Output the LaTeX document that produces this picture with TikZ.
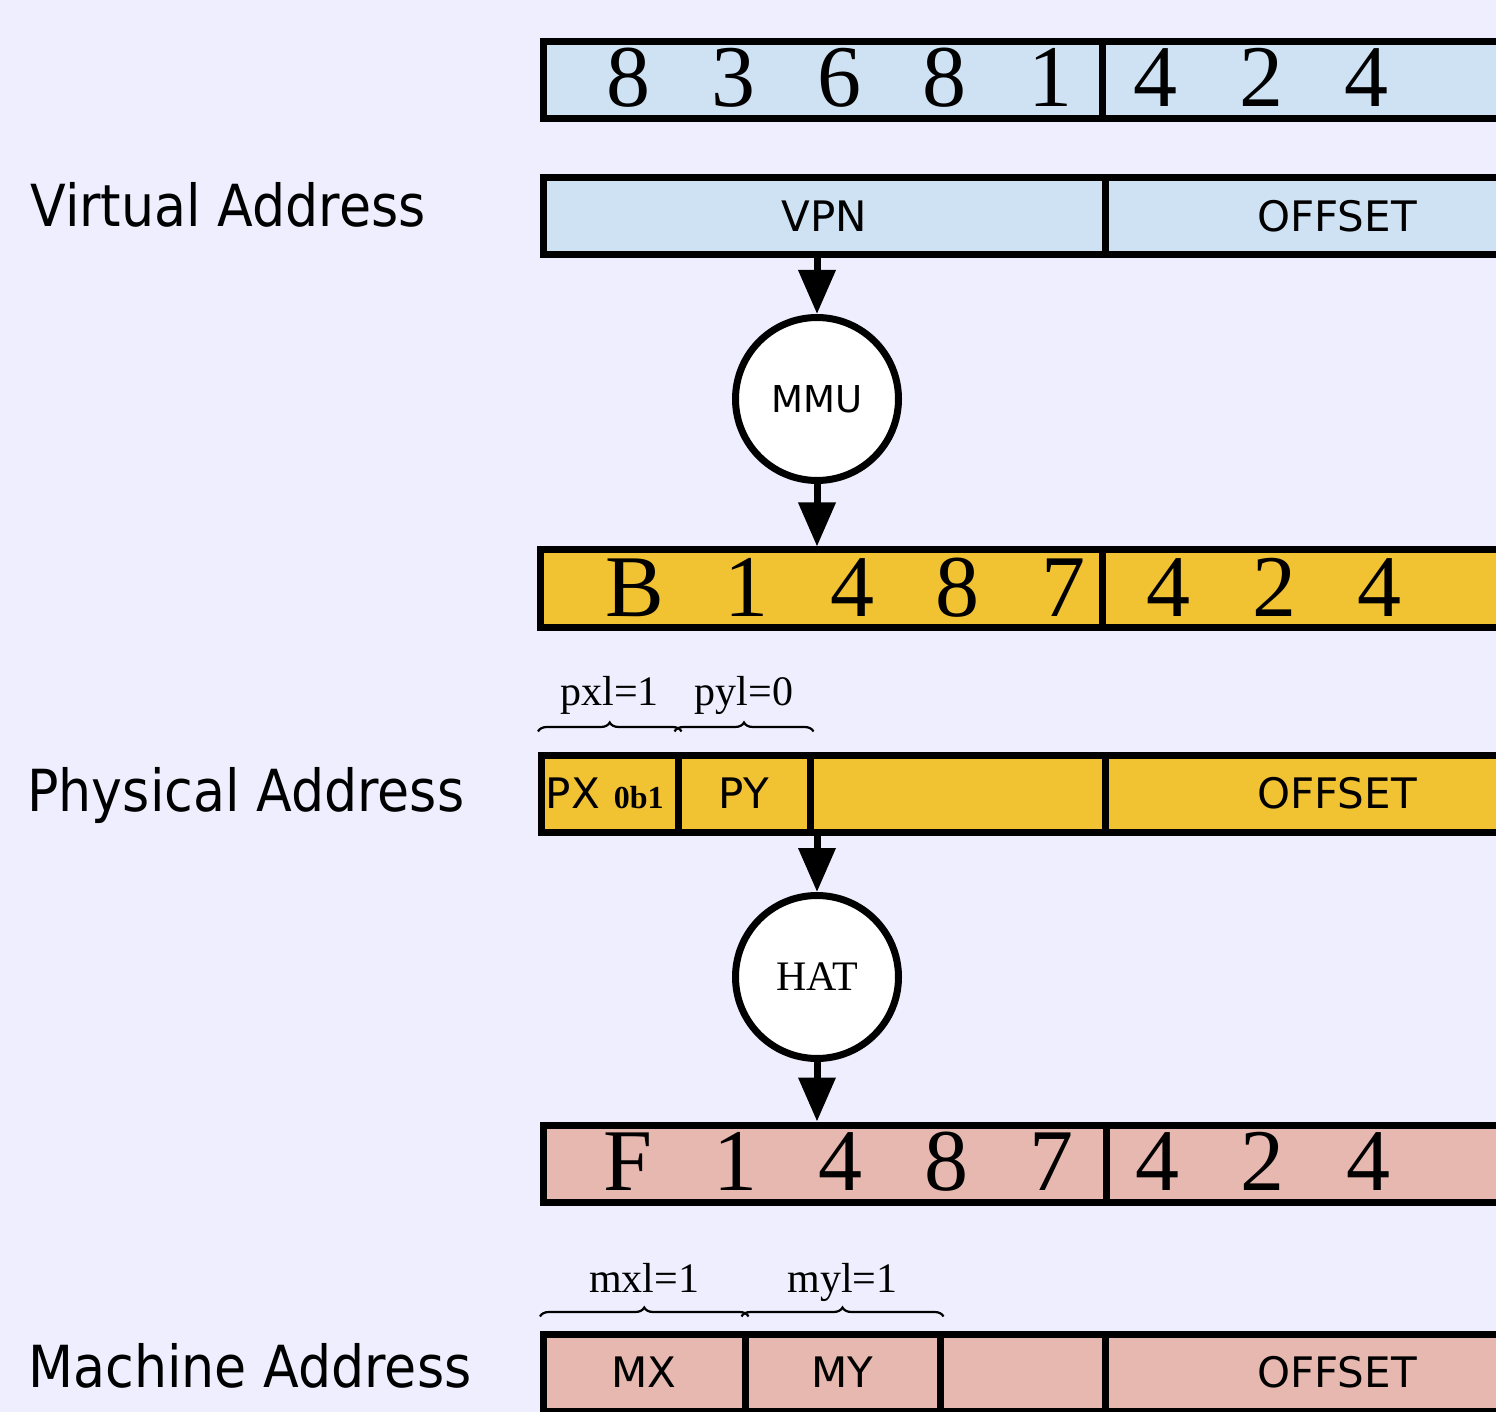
\documentclass[tikz,border=0pt]{standalone}
\usepackage{fontspec}
\setmainfont{Liberation Serif}
\setsansfont{DejaVu Sans}
\newfontfamily\addrlabelfamily[FakeStretch=0.9]{DejaVu Sans}
\usetikzlibrary{arrows.meta,decorations.pathreplacing}

\definecolor{paper}{RGB}{238,238,254}
\definecolor{virtblue}{RGB}{207,226,243}
\definecolor{physgold}{RGB}{241,194,50}
\definecolor{machrose}{RGB}{230,184,175}

\newcommand\addrdigits{\fontsize{44}{48}\selectfont}
\newcommand\addrfield{\sffamily\fontsize{21}{24}\selectfont}
\newcommand\addrlabel{\addrlabelfamily\fontsize{29}{32}\selectfont}
\newcommand\addrspan{\fontsize{21}{24}\selectfont}

\tikzset{
  field/.style={draw, line width=3.5pt, minimum height=38.5pt, inner sep=0pt, font=\addrfield},
  digit/.style={anchor=base, inner sep=0pt, font=\addrdigits},
  unit/.style={circle, draw, line width=3.5pt, fill=white, minimum size=81.5pt, inner sep=0pt},
  flow/.style={line width=3.5pt, -{Triangle[width=18pt,length=22pt]}},
  span/.style={decorate, decoration={brace, amplitude=4.5pt}, line width=1.1pt},
  spanlabel/.style={midway, anchor=base, inner sep=0pt, yshift=13pt, font=\addrspan},
  rowlabel/.style={anchor=base west, inner sep=0pt, font=\addrlabel}
}

\begin{document}
\begin{tikzpicture}[x=0.5pt,y=-0.5pt]
\useasboundingbox (0,0) rectangle (1496,1412);
\clip (0,0) rectangle (1496,1412);
\fill[paper] (0,0) rectangle (1496,1412);

% row names
\node[rowlabel] (vlabel) at (30,227) {Virtual Address};
\node[rowlabel] (plabel) at (27,811) {Physical Address};
\node[rowlabel] (mlabel) at (28,1387) {Machine Address};

% virtual address: value and layout
\node[field, fill=virtblue, minimum width=279.75pt] (vhi) at (823.25,80) {};
\node[field, fill=virtblue, minimum width=233pt] (vlo) at (1335.5,80) {};
\foreach \c [count=\i] in {8,3,6,8,1,4,2,4}
  \node[digit] (vd\i) at ({628+105.5*(\i-1)},107) {\c};

\node[field, fill=virtblue, minimum width=280.75pt] (vpn) at (824.25,216) {VPN};
\node[field, fill=virtblue, minimum width=232pt] (voff) at (1337,216) {OFFSET};

\node[unit, font=\sffamily\fontsize{18.5}{20}\selectfont] (mmu) at (817,399) {MMU};

% physical address: value and layout
\node[field, fill=physgold, minimum width=280.75pt] (phi) at (821.25,588.5) {};
\node[field, fill=physgold, minimum width=233.5pt] (plo) at (1335.5,588.5) {};
\node[digit] (pd0) at (635,617) {B};
\foreach \c [count=\i] in {1,4,8,7,4,2,4}
  \node[digit] (pd\i) at ({746.5+105.5*(\i-1)},617) {\c};

\node[field, fill=physgold, minimum width=68.25pt, text width=64pt] (px) at (609.75,793.5)
  {PX {\rmfamily\bfseries\fontsize{16}{18}\selectfont 0b1}};
\node[field, fill=physgold, minimum width=66pt] (py) at (744,793.5) {PY};
\node[field, fill=physgold, minimum width=147.5pt] (pgap) at (957.5,793.5) {};
\node[field, fill=physgold, minimum width=232pt] (poff) at (1337,793.5) {OFFSET};

\draw[span] ([yshift=10pt]px.north west) -- ([yshift=10pt]px.north east)
  node[spanlabel] {pxl=1};
\draw[span] ([yshift=10pt]py.north west) -- ([yshift=10pt]py.north east)
  node[spanlabel] {pyl=0};

\node[unit, font=\fontsize{21}{24}\selectfont] (hat) at (817,977) {HAT};

% machine address: value and layout
\node[field, fill=machrose, minimum width=281.25pt] (mhi) at (824.75,1163.5) {};
\node[field, fill=machrose, minimum width=231.5pt] (mlo) at (1337.5,1163.5) {};
\node[digit] (md0) at (628,1190) {F};
\foreach \c [count=\i] in {1,4,8,7,4,2,4}
  \node[digit] (md\i) at ({735+105.5*(\i-1)},1190) {\c};

\node[field, fill=machrose, minimum width=100.75pt] (mx) at (644.25,1372.5) {MX};
\node[field, fill=machrose, minimum width=97.5pt] (my) at (842.5,1372.5) {MY};
\node[field, fill=machrose, minimum width=82.5pt] (mgap) at (1022.5,1372.5) {};
\node[field, fill=machrose, minimum width=232pt] (moff) at (1337,1372.5) {OFFSET};

\draw[span] ([yshift=7pt]mx.north west) -- ([yshift=7pt]mx.north east)
  node[spanlabel, yshift=-1pt] {mxl=1};
\draw[span] ([yshift=7pt]my.north west) -- ([yshift=7pt]my.north east)
  node[spanlabel, yshift=-1pt] {myl=1};

% translation steps
\draw[flow] (vpn.south -| mmu.north) -- (mmu.north);
\draw[flow] (mmu.south) -- (mmu.south |- phi.north);
\draw[flow] (pgap.south -| hat.north) -- (hat.north);
\draw[flow] (hat.south) -- (hat.south |- mhi.north);
\end{tikzpicture}
\end{document}
